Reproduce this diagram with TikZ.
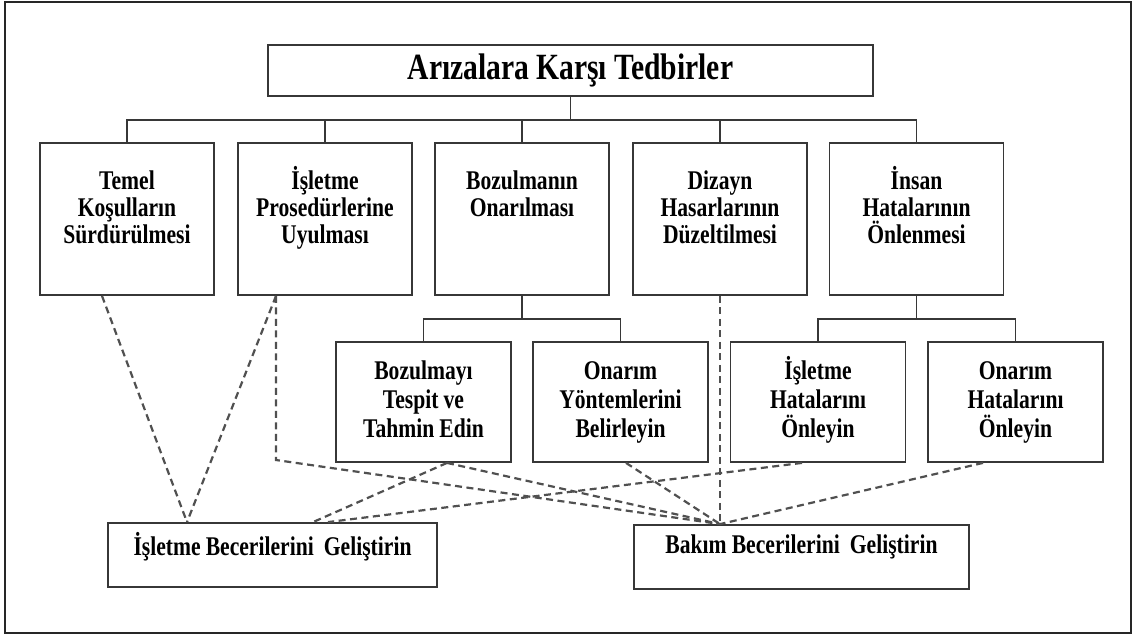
\documentclass[tikz,border=0pt]{standalone}
\usepackage{fontspec}
\setmainfont{Liberation Serif}[FakeStretch=0.8, WordSpace=0.95]
\usetikzlibrary{positioning,calc}
\definecolor{cizgi}{RGB}{55,55,55}
\definecolor{kesik}{RGB}{80,80,80}
\tikzset{
  anakutu/.style={draw=cizgi, line width=1.8pt, minimum width=605pt, minimum height=51pt,
                  inner sep=0pt, font=\fontsize{37}{42}\selectfont\bfseries},
  kutu/.style={draw=cizgi, line width=1.8pt, minimum width=174pt, minimum height=152pt, inner sep=0pt},
  altkutu/.style={draw=cizgi, line width=1.8pt, minimum width=175pt, minimum height=120pt, inner sep=0pt},
  becerikutu/.style={draw=cizgi, line width=1.8pt, minimum width=#1, minimum height=64pt, inner sep=0pt},
  yazi/.style={anchor=base, align=flush center, text width=170pt, inner sep=0pt,
               font=\fontsize{27}{#1}\selectfont\bfseries},
  baglanti/.style={draw=cizgi, line width=1.8pt},
  kesikcizgi/.style={draw=kesik, line width=2.2pt, dash pattern=on 7pt off 4.5pt},
  cerceve/.style={draw=black!85, line width=1.6pt},
}
\begin{document}
\begin{tikzpicture}[x=1pt, y=-1pt]
\useasboundingbox (0,0) rectangle (1136,635);
\draw[cerceve] (5,2) rectangle (1131,633);

% ust kutu
\node[anakutu] (baslik) at (570.5,70.5) {Arızalara Karşı Tedbirler};

% birinci sira
\node[kutu] (temel) at (127,219) {};
\node[kutu] (isletme) at (325,219) {};
\node[kutu] (bozulma) at (522,219) {};
\node[kutu] (dizayn) at (720,219) {};
\node[kutu] (insan) at (916.5,219) {};
\node[yazi=27] (temel-t) at ([yshift=-47pt]temel.north) {Temel\\Koşulların\\Sürdürülmesi};
\node[yazi=27] (isletme-t) at ([yshift=-47pt]isletme.north) {İşletme\\Prosedürlerine\\Uyulması};
\node[yazi=27] (bozulma-t) at ([yshift=-47pt]bozulma.north) {Bozulmanın\\Onarılması};
\node[yazi=27] (dizayn-t) at ([yshift=-47pt]dizayn.north) {Dizayn\\Hasarlarının\\Düzeltilmesi};
\node[yazi=27] (insan-t) at ([yshift=-47pt]insan.north) {İnsan\\Hatalarının\\Önlenmesi};

% ikinci sira
\node[altkutu] (tespit) at (423.5,402) {};
\node[altkutu] (yontem) at (620.5,402) {};
\node[altkutu] (ishata) at (818,402) {};
\node[altkutu] (onhata) at (1015.5,402) {};
\node[yazi=29] (tespit-t) at ([yshift=-38pt]tespit.north) {Bozulmayı\\Tespit ve\\Tahmin Edin};
\node[yazi=29] (yontem-t) at ([yshift=-38pt]yontem.north) {Onarım\\Yöntemlerini\\Belirleyin};
\node[yazi=29] (ishata-t) at ([yshift=-38pt]ishata.north) {İşletme\\Hatalarını\\Önleyin};
\node[yazi=29] (onhata-t) at ([yshift=-38pt]onhata.north) {Onarım\\Hatalarını\\Önleyin};

% beceriler
\node[becerikutu=329pt] (isbec) at (272.5,555) {};
\node[becerikutu=335pt] (bakbec) at (801.5,557) {};
\node[yazi=27, text width=320pt] (isbec-t) at ([yshift=-33pt]isbec.north) {İşletme Becerilerini\hspace{5pt} Geliştirin};
\node[yazi=27, text width=320pt] (bakbec-t) at ([yshift=-29pt]bakbec.north) {Bakım Becerilerini\hspace{5pt} Geliştirin};

% agac baglantilari
\draw[baglanti] (baslik.south) -- ++(0,24);
\draw[baglanti] (temel.north) -- ++(0,-22) -| (insan.north);
\foreach \k in {isletme,bozulma,dizayn}
  \draw[baglanti] (\k.north) -- ++(0,-22);
\draw[baglanti] (bozulma.south) -- ++(0,24);
\draw[baglanti] (tespit.north) -- ++(0,-22) -| (yontem.north);
\draw[baglanti] (insan.south) -- ++(0,24);
\draw[baglanti] (ishata.north) -- ++(0,-22) -| (onhata.north);

% kesikli baglantilar
\coordinate (ib) at ([xshift=-85.5pt]isbec.north);
\coordinate (bb) at (dizayn.south |- bakbec.north);
\coordinate (kose) at ([xshift=-49pt]isletme.south |- 0,460);
\draw[kesikcizgi] ([xshift=-25pt]temel.south) -- (ib);
\draw[kesikcizgi] ([xshift=-49pt]isletme.south) -- (ib);
\draw[kesikcizgi] ([xshift=-49pt]isletme.south) -- (kose) -- (bb);
\draw[kesikcizgi] ([xshift=23.5pt]tespit.south) -- ([xshift=40.5pt]isbec.north);
\draw[kesikcizgi] ([xshift=23.5pt]tespit.south) -- (bb);
\draw[kesikcizgi] ([xshift=5.5pt]yontem.south) -- (bb);
\draw[kesikcizgi] (dizayn.south) -- (bb);
\draw[kesikcizgi] ([xshift=-16pt]ishata.south) -- ([xshift=55.5pt]isbec.north);
\draw[kesikcizgi] ([xshift=-32.5pt]onhata.south) -- (bb);
\end{tikzpicture}
\end{document}
